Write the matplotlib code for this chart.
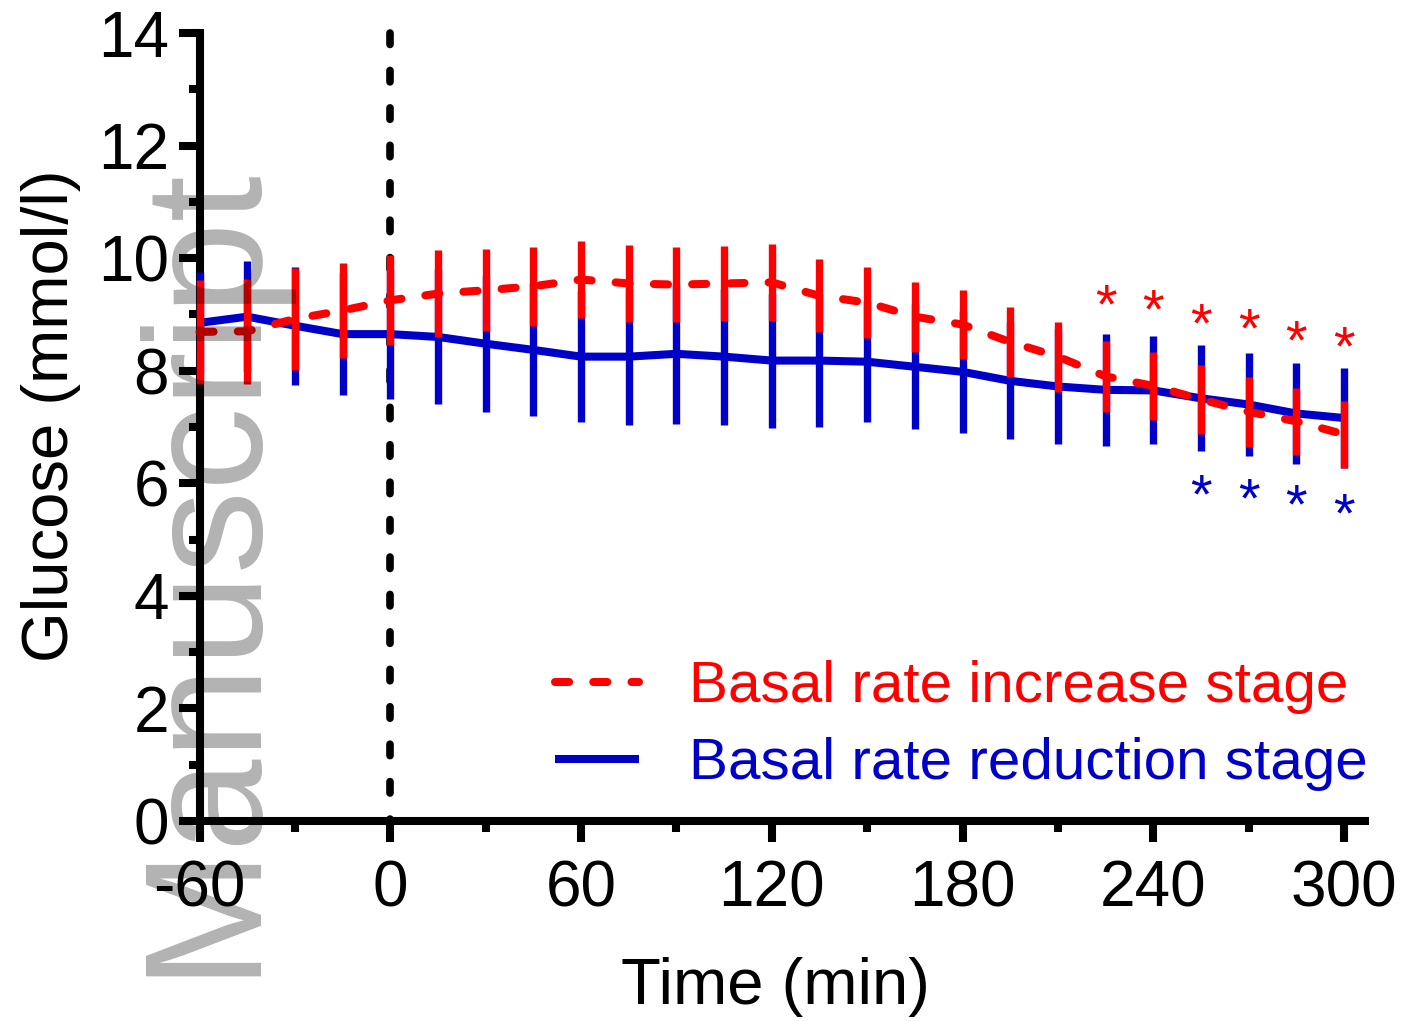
import matplotlib
matplotlib.use('Agg')
import matplotlib.pyplot as plt
from matplotlib.ticker import MultipleLocator

plt.rcParams['font.family'] = ['Liberation Sans', 'DejaVu Sans']
plt.rcParams['axes.unicode_minus'] = False

# ---------------- data ----------------
time_min = [-60, -45, -30, -15, 0, 15, 30, 45, 60, 75, 90, 105, 120,
            135, 150, 165, 180, 195, 210, 225, 240, 255, 270, 285, 300]

increase_mean = [8.69, 8.70, 8.92, 9.07, 9.25, 9.37, 9.43, 9.50, 9.62, 9.55, 9.53, 9.55, 9.57,
                 9.33, 9.21, 8.96, 8.82, 8.51, 8.25, 7.90, 7.73, 7.49, 7.27, 7.10, 6.87]
increase_sd = [0.92, 0.93, 0.90, 0.84, 0.80, 0.77, 0.73, 0.70, 0.68, 0.68, 0.67, 0.67, 0.69,
               0.65, 0.63, 0.62, 0.61, 0.62, 0.62, 0.63, 0.61, 0.62, 0.62, 0.60, 0.59]

reduction_mean = [8.85, 8.96, 8.80, 8.65, 8.65, 8.60, 8.48, 8.37, 8.25, 8.25, 8.30, 8.25, 8.18,
                  8.18, 8.16, 8.07, 7.98, 7.82, 7.72, 7.66, 7.65, 7.51, 7.40, 7.24, 7.16]
reduction_sd = [0.90, 0.99, 1.05, 1.09, 1.15, 1.20, 1.21, 1.18, 1.17, 1.21, 1.24, 1.21, 1.19,
                1.18, 1.08, 1.11, 1.08, 1.04, 1.03, 0.99, 0.96, 0.94, 0.92, 0.90, 0.88]

increase_sig_time = [225, 240, 255, 270, 285, 300]
increase_sig_y = [9.31, 9.23, 8.97, 8.88, 8.68, 8.56]
reduction_sig_time = [255, 270, 285, 300]
reduction_sig_y = [5.93, 5.87, 5.75, 5.59]

increase_label = 'Basal rate increase stage'
reduction_label = 'Basal rate reduction stage'
x_ticks = [-60, 0, 60, 120, 180, 240, 300]
y_ticks = [0, 2, 4, 6, 8, 10, 12, 14]

RED = '#FF0000'
BLUE = '#0000C8'

W, H = 1417, 1021
fig = plt.figure(figsize=(W / 100, H / 100), dpi=100)
ax = fig.add_axes([199.5 / W, 1 - 821 / H, (1365 - 199.5) / W, (821 - 33) / H])

ax.set_xlim(-60, 306.6)
ax.set_ylim(0, 14)

for s in ['top', 'right']:
    ax.spines[s].set_visible(False)
for s in ['left', 'bottom']:
    ax.spines[s].set_linewidth(5.8)
    ax.spines[s].set_zorder(1)

# vertical dashed line at time 0
ax.plot([0, 0], [14, 0], color='black', lw=5.5, dashes=(1.5, 3.4),
        dash_capstyle='round', zorder=2, clip_on=False)

# reduction stage (blue, solid)
eb = ax.errorbar(time_min, reduction_mean, yerr=reduction_sd, fmt='none',
                 ecolor=BLUE, elinewidth=5.3, capsize=0, zorder=3)
for c in eb.get_children():
    c.set_clip_on(False)
blue_line, = ax.plot(time_min, reduction_mean, color=BLUE, lw=5.8, zorder=4,
                     clip_on=False, solid_capstyle='butt', solid_joinstyle='round',
                     label=reduction_label)

# increase stage (red, dashed)
eb2 = ax.errorbar(time_min, increase_mean, yerr=increase_sd, fmt='none',
                  ecolor=RED, elinewidth=5.3, capsize=0, zorder=5)
for c in eb2.get_children():
    c.set_clip_on(False)
red_line, = ax.plot(time_min, increase_mean, color=RED, lw=5.8, zorder=6,
                    clip_on=False, dashes=(1.75, 3.0), dash_capstyle='round',
                    label=increase_label)

# significance asterisks
STAR_FS = 40
STAR_OFF = -0.46 * STAR_FS
for t, y in zip(increase_sig_time, increase_sig_y):
    ax.annotate('*', xy=(t, y), xytext=(0, STAR_OFF), textcoords='offset points',
                ha='center', va='baseline', fontsize=STAR_FS, color=RED,
                annotation_clip=False, zorder=7)
for t, y in zip(reduction_sig_time, reduction_sig_y):
    ax.annotate('*', xy=(t, y), xytext=(0, STAR_OFF), textcoords='offset points',
                ha='center', va='baseline', fontsize=STAR_FS, color=BLUE,
                annotation_clip=False, zorder=7)

# ticks
ax.set_xticks(x_ticks)
ax.set_xticklabels([str(v) for v in x_ticks])
ax.set_yticks(y_ticks)
ax.set_yticklabels([str(v) for v in y_ticks])
ax.xaxis.set_minor_locator(MultipleLocator(30))
ax.yaxis.set_minor_locator(MultipleLocator(1))
ax.tick_params(which='major', length=15, width=5.8, labelsize=46, direction='out')
ax.tick_params(which='minor', length=8, width=5.8, direction='out')
ax.tick_params(axis='x', which='major', pad=13)
ax.tick_params(axis='y', which='major', pad=7)

ax.set_xlabel('Time (min)', fontsize=47)
ax.xaxis.set_label_coords((775 - 199.5) / (1365 - 199.5), (821 - 957) / (821 - 33))
ax.set_ylabel('Glucose (mmol/l)', fontsize=47)
ax.yaxis.set_label_coords((81 - 199.5) / (1365 - 199.5), (821 - 416) / (821 - 33))

leg = ax.legend(handles=[red_line, blue_line], loc='upper left',
                bbox_to_anchor=(555 / W, 1 - 660 / H), bbox_transform=fig.transFigure,
                frameon=False, fontsize=42, handlelength=1.44, handletextpad=0.85,
                labelspacing=0.4, borderpad=0, borderaxespad=0, labelcolor='linecolor')

# watermark
fig.text(248 / W, 1 - 976 / H, 'Manuscript', rotation=90, rotation_mode='anchor',
         ha='left', va='baseline', fontsize=120, color='black', alpha=0.3, zorder=10)

fig.savefig('out.png', dpi=100)
